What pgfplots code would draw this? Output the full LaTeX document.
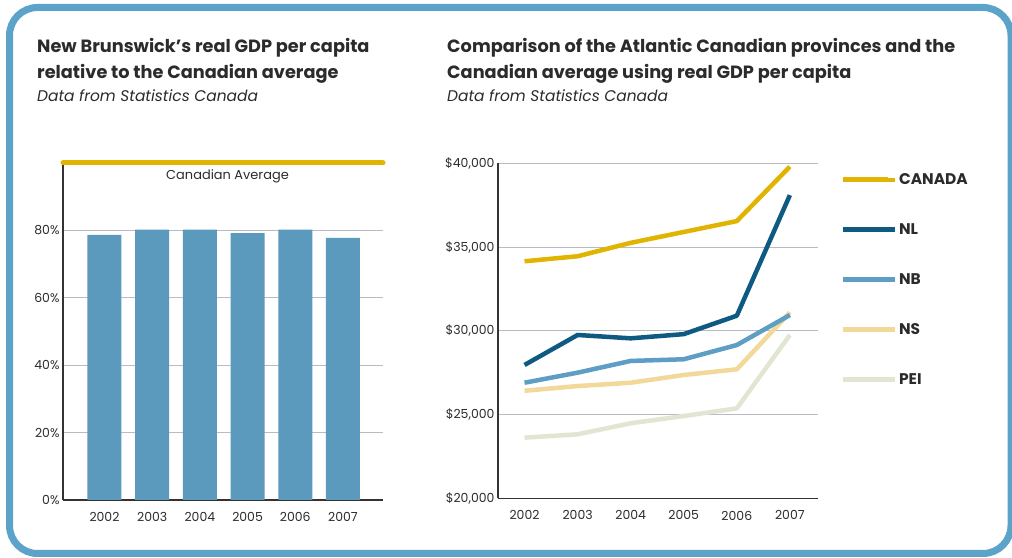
\documentclass[border=0pt]{standalone}
\usepackage{fontspec}
\setmainfont{Poppins}
\usepackage{pgfplots}
\pgfplotsset{compat=1.18}

\definecolor{frameblue}{HTML}{5CA3C9}
\definecolor{barblue}{HTML}{5B9ABD}
\definecolor{gold}{HTML}{E0B400}
\definecolor{nlblue}{HTML}{0F5A82}
\definecolor{nbblue}{HTML}{5E9DC4}
\definecolor{nsyellow}{HTML}{F2D99A}
\definecolor{peigrey}{HTML}{E3E5D3}
\definecolor{gridgrey}{HTML}{B9BBC4}
\definecolor{axisgrey}{HTML}{333333}
\definecolor{textgrey}{HTML}{2B2B2B}

\pgfplotsset{
  panel/.style={
    scale only axis,
    axis x line*=bottom,
    axis y line*=left,
    axis line style={axisgrey, line width=1.2bp},
    ymajorgrids,
    grid style={gridgrey, line width=0.8bp},
    major tick length=0pt,
    tick label style={font=\fontsize{12.5}{14}\selectfont, textgrey},
    xticklabel style={yshift=-9bp},
    xtick={0,...,5},
    xticklabels={2002,2003,2004,2005,2006,2007},
    scaled y ticks=false,
    clip=false,
  },
}

\begin{document}
\begin{tikzpicture}[x=1bp,y=1bp]
\useasboundingbox (0,0) rectangle (1012,558);
\begin{scope}
  \clip (0,0) rectangle (1012,558);
  \draw[frameblue, line width=7bp, rounded corners=28bp] (9.5,550.5) rectangle (1011,4.5);
\end{scope}
\coordinate (leftorigin) at (63,58);
\coordinate (rightorigin) at (498,59.7);

% titles
\node[anchor=base west, font=\bfseries\fontsize{17.8}{20}\selectfont, textgrey, inner sep=0pt] at (37,505) {New Brunswick’s real GDP per capita};
\node[anchor=base west, font=\bfseries\fontsize{17.8}{20}\selectfont, textgrey, inner sep=0pt] at (37,479) {relative to the Canadian average};
\node[anchor=base west, font=\itshape\fontsize{15.5}{16}\selectfont, textgrey, inner sep=0pt] at (37,456) {Data from Statistics Canada};

\node[anchor=base west, font=\bfseries\fontsize{17.8}{20}\selectfont, textgrey, inner sep=0pt] at (447,505) {Comparison of the Atlantic Canadian provinces and the};
\node[anchor=base west, font=\bfseries\fontsize{17.8}{20}\selectfont, textgrey, inner sep=0pt] at (447,479) {Canadian average using real GDP per capita};
\node[anchor=base west, font=\itshape\fontsize{15.5}{16}\selectfont, textgrey, inner sep=0pt] at (447,456) {Data from Statistics Canada};

% left panel: NB relative to Canada
\begin{axis}[panel,
  at={(leftorigin)}, anchor=south west,
  width=320bp, height=337bp,
  xmin=-0.87, xmax=5.84,
  ymin=0, ymax=100,
  ytick={0,20,40,60,80},
  yticklabels={0\%,20\%,40\%,60\%,80\%},
]
\addplot[ybar, bar width=34bp, fill=barblue, draw=none]
coordinates {(0,78.7) (1,80.2) (2,80.2) (3,79.2) (4,80.2) (5,77.8)};
% Canadian average = 100%
\addplot[gold, line width=5bp, line cap=round]
coordinates {(-0.87,100) (5.84,100)};
\node[below, font=\fontsize{13}{14}\selectfont, textgrey, yshift=-3bp] at (axis cs:2.58,100) {Canadian Average};
\end{axis}

% right panel: Atlantic provinces
\begin{axis}[panel,
  at={(rightorigin)}, anchor=south west,
  width=320bp, height=335bp,
  xmin=-0.5, xmax=5.53,
  ymin=20000, ymax=40000,
  ytick={20000,25000,30000,35000,40000},
  yticklabels={{\$20,000},{\$25,000},{\$30,000},{\$35,000},{\$40,000}},
  every axis plot/.append style={line width=4.5bp, line join=round},
  legend image code/.code={\draw[#1, line width=5bp] (0bp,0bp) -- (45bp,0bp);
    \path (0bp,0bp) -- (52bp,0bp);},
  legend style={at={(1.069,0.976)}, anchor=north west, draw=none, fill=none,
    font=\bfseries\fontsize{15.5}{17}\selectfont, text=textgrey,
    row sep=33.6bp, inner sep=0pt},
  legend cell align=left,
]
\addplot[peigrey, forget plot] coordinates {(0,23620) (1,23820) (2,24480) (3,24910) (4,25370) (5,29750)};
\addplot[nsyellow, forget plot] coordinates {(0,26420) (1,26700) (2,26900) (3,27360) (4,27700) (5,31100)};
\addplot[nbblue, forget plot] coordinates {(0,26900) (1,27500) (2,28200) (3,28300) (4,29150) (5,30940)};
\addplot[nlblue, forget plot] coordinates {(0,27960) (1,29750) (2,29550) (3,29800) (4,30900) (5,38100)};
\addplot[gold, forget plot] coordinates {(0,34150) (1,34450) (2,35250) (3,35900) (4,36550) (5,39800)};
% legend entries
\addlegendimage{gold}\addlegendentry{CANADA}
\addlegendimage{nlblue}\addlegendentry{NL}
\addlegendimage{nbblue}\addlegendentry{NB}
\addlegendimage{nsyellow}\addlegendentry{NS}
\addlegendimage{peigrey}\addlegendentry{PEI}
\end{axis}
\end{tikzpicture}
\end{document}
